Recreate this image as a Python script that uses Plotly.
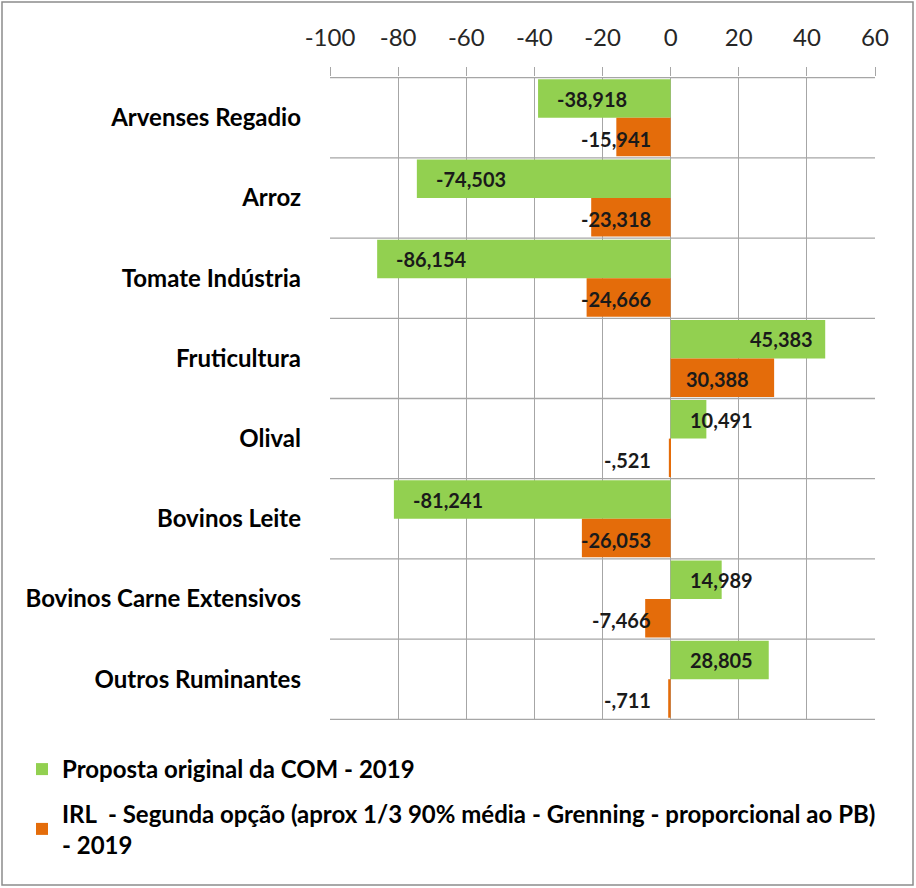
import plotly.graph_objects as go

categories = ["Arvenses Regadio", "Arroz", "Tomate Indústria", "Fruticultura",
              "Olival", "Bovinos Leite", "Bovinos Carne Extensivos", "Outros Ruminantes"]
proposta_com = [-38.918, -74.503, -86.154, 45.383, 10.491, -81.241, 14.989, 28.805]
irl_segunda = [-15.941, -23.318, -24.666, 30.388, -0.521, -26.053, -7.466, -0.711]
x_ticks = [-100, -80, -60, -40, -20, 0, 20, 40, 60]

name_a = "Proposta original da COM - 2019"
name_b = "IRL  - Segunda opção (aprox 1/3 90% média - Grenning - proporcional ao PB)<br>- 2019"

GREEN = "#92D050"
ORANGE = "#E46C0A"
GRID = "#A6A6A6"
FONT = "Lato"

def fmt(v):
    s = f"{abs(v):.3f}".replace(".", ",")
    if s.startswith("0"):
        s = s[1:]
    return ("-" if v < 0 else "") + s

W, H = 916, 888
ML, MR, MT, MB = 330, 41, 77, 168

fig = go.Figure()
fig.add_trace(go.Bar(y=categories, x=proposta_com, orientation="h", name=f"<b>{name_a}</b>",
                     marker=dict(color=GREEN, line=dict(width=0)), legendgroup="a"))
fig.add_trace(go.Bar(y=categories, x=irl_segunda, orientation="h", name=f"<b>{name_b}</b>",
                     marker=dict(color=ORANGE, line=dict(width=0)), legendgroup="b"))

ann = []
lab_font = dict(family=FONT, size=20, color="#1a1a1a")
GY, OY = 19, -21
for c, v in zip(categories, proposta_com):
    if v < 0:
        ann.append(dict(x=v, y=c, text=f"<b>{fmt(v)}</b>", xanchor="left", xshift=17, yshift=GY,
                        showarrow=False, font=lab_font))
    elif v > 35:
        ann.append(dict(x=v, y=c, text=f"<b>{fmt(v)}</b>", xanchor="right", xshift=-10, yshift=GY,
                        showarrow=False, font=lab_font))
    else:
        ann.append(dict(x=0, y=c, text=f"<b>{fmt(v)}</b>", xanchor="left", xshift=17, yshift=GY,
                        showarrow=False, font=lab_font))
for c, v in zip(categories, irl_segunda):
    if v < 0:
        ann.append(dict(x=0, y=c, text=f"<b>{fmt(v)}</b>", xanchor="right", xshift=-18, yshift=OY,
                        showarrow=False, font=lab_font))
    else:
        ann.append(dict(x=0, y=c, text=f"<b>{fmt(v)}</b>", xanchor="left", xshift=13, yshift=OY,
                        showarrow=False, font=lab_font))

shapes = []
n = len(categories)
for i in range(n + 1):
    shapes.append(dict(type="line", xref="paper", x0=0, x1=1, yref="y", y0=i - 0.5, y1=i - 0.5,
                       line=dict(color=GRID, width=1.3), layer="below"))
pw, ph = W - ML - MR, H - MT - MB
shapes.append(dict(type="rect", xref="paper", yref="paper",
                   x0=(2 - ML) / pw, x1=(W - 3 - ML) / pw,
                   y0=-(H - 3 - MT - ph) / ph, y1=1 + (MT - 2) / ph,
                   line=dict(color="#8C8C8C", width=1.5), fillcolor="rgba(0,0,0,0)"))

fig.update_layout(
    width=W, height=H,
    margin=dict(l=ML, r=MR, t=MT, b=MB, autoexpand=False),
    paper_bgcolor="white", plot_bgcolor="white",
    barmode="group", bargap=0.04, bargroupgap=0,
    font=dict(family=FONT, color="#000000"),
    xaxis=dict(side="top", range=[-100, 60], tickvals=x_ticks, ticktext=[str(t) for t in x_ticks],
               showgrid=True, gridcolor=GRID, gridwidth=1.3, zeroline=False, automargin=False,
               showline=False, ticks="outside", ticklen=9, tickcolor=GRID, tickwidth=1.3,
               tickangle=0, ticklabelstandoff=11,
               tickfont=dict(family=FONT, size=24, color="#262626")),
    yaxis=dict(autorange="reversed", showgrid=False, zeroline=False, showline=False,
               ticks="", ticklabelstandoff=28, automargin=False,
               tickfont=dict(family=FONT, size=24, color="#000000", weight="bold")),
    legend=dict(xref="container", yref="container", x=22 / W, y=1 - 747 / H,
                xanchor="left", yanchor="top", tracegroupgap=10, itemwidth=30,
                font=dict(family=FONT, size=24, color="#000000")),
    annotations=ann, shapes=shapes,
)

fig.write_html("out.html")
